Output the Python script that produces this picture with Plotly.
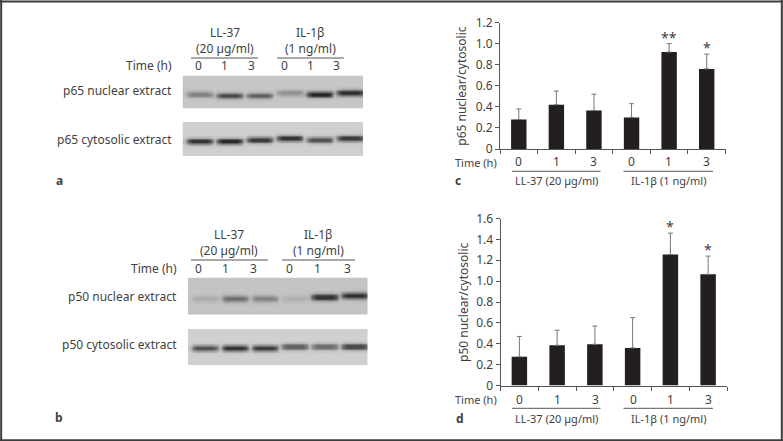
import plotly.graph_objects as go

W, H = 783, 441
FONT = "Noto Sans"
INK = "#3f3f3f"

# ---- data ----
time_labels = ["0", "1", "3", "0", "1", "3"]
group_labels = ["LL-37 (20 µg/ml)", "IL-1β (1 ng/ml)"]
p65_mean = [0.28, 0.42, 0.365, 0.30, 0.92, 0.76]
p65_top = [0.38, 0.55, 0.52, 0.43, 1.00, 0.90]
p65_stars = ["", "", "", "", "**", "*"]
p50_mean = [0.275, 0.385, 0.395, 0.36, 1.255, 1.065]
p50_top = [0.47, 0.53, 0.57, 0.65, 1.46, 1.24]
p50_stars = ["", "", "", "", "*", "*"]

# band darkness per lane (0 = no band, 1 = black), read from the blots
a_nuclear_bands = [0.42, 0.72, 0.58, 0.32, 0.98, 0.93]
a_cyto_bands = [0.85, 0.92, 0.85, 0.88, 0.72, 0.85]
b_nuclear_bands = [0.14, 0.50, 0.38, 0.12, 0.88, 0.88]
b_cyto_bands = [0.68, 0.85, 0.80, 0.62, 0.55, 0.76]
# band row per lane, out of 24 image rows
a_nuclear_rows = [13, 14, 14, 12, 13, 12]
a_cyto_rows = [13, 13, 12, 11, 12, 11]
b_nuclear_rows = [13, 13, 13, 13, 12, 11]
b_cyto_rows = [12, 12, 12, 11, 11, 11]
a_nuclear_bg, a_cyto_bg, b_nuclear_bg, b_cyto_bg = 198, 207, 196, 208
band_falloff = [1, 0.9, 0.42, 0.12, 0.03]
lane_profile = [0.15, 0.75, 1, 1, 1, 1, 1, 0.8]

fig = go.Figure()


def px_x(x):
    return x / W


def px_y(y):
    return 1 - y / H


def text(x, y, s, anchor="center", size=12, bold=False, angle=0):
    fig.add_annotation(
        xref="paper", yref="paper", x=px_x(x), y=px_y(y), text=f"<b>{s}</b>" if bold else s,
        showarrow=False, xanchor=anchor, yanchor="middle", textangle=angle,
        font=dict(family=FONT, size=size, color=INK), borderpad=0, align="center",
    )


def rule(x0, x1, y):
    fig.add_shape(type="line", xref="paper", yref="paper", x0=px_x(x0), x1=px_x(x1),
                  y0=px_y(y), y1=px_y(y), line=dict(color="#555555", width=1))


axis_no = 0


def new_axes(x0, x1, y0, y1):
    """Create an x/y axis pair on the pixel box; returns the trace references."""
    global axis_no
    axis_no += 1
    suffix = "" if axis_no == 1 else str(axis_no)
    return suffix, dict(domain=[px_x(x0), px_x(x1)], anchor="y" + suffix, automargin=False), dict(
        domain=[px_y(y1), px_y(y0)], anchor="x" + suffix, automargin=False)


def bar_panel(means, tops, stars, ymax, dtick, title, box, title_x):
    suffix, xa, ya = new_axes(*box)
    xref, yref = "x" + suffix, "y" + suffix
    fig.add_trace(go.Bar(
        x=list(range(6)), y=means, xaxis=xref, yaxis=yref, width=0.41, showlegend=False,
        marker=dict(color="#231f20", line=dict(width=0)),
        error_y=dict(type="data", symmetric=False, array=[t - m for t, m in zip(tops, means)],
                     arrayminus=[0] * 6, color="#777777", thickness=1, width=2.5),
    ))
    xa.update(range=[-0.5, 5.5], tickmode="array", tickvals=[i - 0.5 for i in range(7)],
              ticktext=[""] * 7, ticks="outside", ticklen=4, tickcolor="#555555", tickwidth=1,
              showline=True, linecolor="#555555", linewidth=1, showgrid=False, zeroline=False)
    ya.update(range=[0, ymax], ticks="outside", ticklen=4, tickcolor="#555555",
              tickwidth=1, showline=True, linecolor="#555555", linewidth=1, showgrid=False,
              zeroline=False, tickfont=dict(family=FONT, size=12, color=INK))
    n = int(round(ymax / dtick))
    ya["tickmode"] = "array"
    ya["tickvals"] = [i * dtick for i in range(n + 1)]
    ya["ticktext"] = ["0"] + [f"{v * dtick:.1f}" for v in range(1, n + 1)]
    fig.update_layout({"xaxis" + suffix: xa, "yaxis" + suffix: ya})
    for i, s in enumerate(stars):
        if s:
            fig.add_annotation(xref=xref, yref=yref, x=i, y=tops[i], text=s, showarrow=False,
                               yanchor="bottom", yshift=-5,
                               font=dict(family=FONT, size=14, color=INK))
    text(title_x, (box[2] + box[3]) / 2, title, angle=-90)


def blot(bands, band_rows, bg, box):
    suffix, xa, ya = new_axes(*box)
    rows = []
    for r in range(24):
        row = []
        for lane, centre in zip(bands, band_rows):
            d = abs(r - centre)
            level = band_falloff[d] if d < len(band_falloff) else 0
            for shape in lane_profile:
                row.append(round(bg - (bg - 22) * lane * level * shape))
        rows.append(row)
    fig.add_trace(go.Heatmap(
        z=rows, xaxis="x" + suffix, yaxis="y" + suffix, zmin=0, zmax=255, showscale=False,
        zsmooth="best", colorscale=[[0, "#000000"], [1, "#ffffff"]], hoverinfo="skip",
    ))
    xa.update(visible=False, fixedrange=True)
    ya.update(visible=False, autorange="reversed", fixedrange=True)
    fig.update_layout({"xaxis" + suffix: xa, "yaxis" + suffix: ya})


# ---- bar panels ----
bar_panel(p65_mean, p65_top, p65_stars, 1.2, 0.2, "p65 nuclear/cytosolic", (500, 725.5, 22.5, 149), 462)
bar_panel(p50_mean, p50_top, p50_stars, 1.6, 0.2, "p50 nuclear/cytosolic", (500.5, 727, 218.5, 385.5), 463)

for i, lx in enumerate([518.5, 556, 593.5, 631, 668.5, 706]):
    text(lx, 162, time_labels[i])
for i, lx in enumerate([519, 557, 595, 633, 670.5, 708.5]):
    text(lx, 399, time_labels[i])
text(476, 162.5, "Time (h)", size=11)
text(476, 399.5, "Time (h)", size=11)
for y_rule, y_lab in ((171.3, 181), (408.3, 418)):
    rule(512, 600.5, y_rule)
    rule(623.5, 713, y_rule)
    text(556, y_lab, group_labels[0], size=11)
    text(668, y_lab, group_labels[1], size=11)

# ---- blots ----
blot(a_nuclear_bands, a_nuclear_rows, a_nuclear_bg, (182.5, 363, 75.5, 108.5))
blot(a_cyto_bands, a_cyto_rows, a_cyto_bg, (182.5, 363, 122, 156))
blot(b_nuclear_bands, b_nuclear_rows, b_nuclear_bg, (188, 367.5, 277.5, 315))
blot(b_cyto_bands, b_cyto_rows, b_cyto_bg, (188, 367.5, 329, 365))

text(225, 32, "LL-37")
text(225, 48, "(20 µg/ml)")
text(310, 32, "IL-1β")
text(310, 48, "(1 ng/ml)")
rule(191, 258, 58)
rule(277, 344, 58)
text(173, 66, "Time (h)", anchor="right")
for lx, t in zip([198, 224, 251, 284, 310, 336], time_labels):
    text(lx, 66, t)
text(173, 91, "p65 nuclear extract", anchor="right")
text(173, 139, "p65 cytosolic extract", anchor="right")

text(229, 234, "LL-37")
text(229, 250, "(20 µg/ml)")
text(318, 234, "IL-1β")
text(318, 250, "(1 ng/ml)")
rule(191, 268, 260)
rule(282, 355, 260)
text(178, 268, "Time (h)", anchor="right")
for lx, t in zip([198, 226, 254, 289, 317, 347], time_labels):
    text(lx, 268, t)
text(178, 296, "p50 nuclear extract", anchor="right")
text(178, 344, "p50 cytosolic extract", anchor="right")

# ---- panel letters ----
for lx, ly, s in ((59, 181, "a"), (59, 417, "b"), (458, 181, "c"), (460, 418, "d")):
    text(lx, ly, s, bold=True, size=12)

# ---- page frame ----
for x0, x1, y0, y1 in ((0, 1, 0.9965, 0.9965), (0.0015, 0.0015, 0, 1),
                       (0, 1, 0.0015, 0.0015), (0.9985, 0.9985, 0, 1)):
    fig.add_shape(type="line", xref="paper", yref="paper", x0=x0, x1=x1,
                  y0=y0, y1=y1, line=dict(color="#3c3c3c", width=2))

fig.update_layout(width=W, height=H, paper_bgcolor="white",
                  plot_bgcolor="white", showlegend=False, bargap=0.59, template="none")
fig.update_layout(margin=dict(l=0, r=0, t=0, b=0, pad=0, autoexpand=False))
fig.write_html("out.html", config={"displayModeBar": False},
               post_script="document.body.style.margin='0';")
